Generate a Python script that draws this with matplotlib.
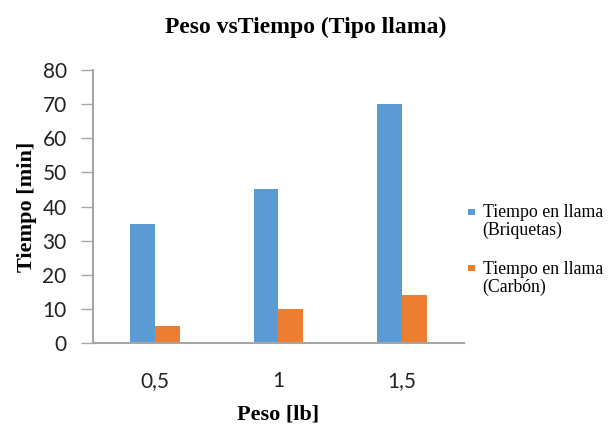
import numpy as np
import matplotlib
matplotlib.use("Agg")
import matplotlib.pyplot as plt
from matplotlib.patches import Rectangle
from matplotlib.container import BarContainer
from matplotlib.legend_handler import HandlerPatch, update_from_first_child

# datos
pesos = ["0,5", "1", "1,5"]
briquetas = [35, 45, 70]
carbon = [5, 10, 14]
series_names = ["Tiempo en llama\n(Briquetas)", "Tiempo en llama\n(Carbón)"]

AZUL = "#5b9bd5"
NARANJA = "#ed7d31"
GRIS = "#a6a6a6"
SERIF = "Liberation Serif"


def cuadrado_arriba(legend, orig_handle, xdescent, ydescent, width, height, fontsize):
    # cuadrito alineado con la primera linea del texto (como Excel)
    s = width
    return Rectangle((-xdescent, -ydescent + height - s * 1.2), s, s)


fig = plt.figure(figsize=(6.12, 4.28), dpi=100)
ax = fig.add_axes([0.152, 0.199, 0.606, 0.637])

x = np.arange(len(pesos))
w = 0.2
ax.bar(x - w / 2, briquetas, w, color=AZUL, label=series_names[0])
ax.bar(x + w / 2, carbon, w, color=NARANJA, label=series_names[1])

ax.set_xlim(-0.5, len(pesos) - 0.5)
ax.set_ylim(0, 80)
ax.set_yticks(range(0, 81, 10))
ax.set_xticks(x)
ax.set_xticklabels(pesos)

for s in ["top", "right"]:
    ax.spines[s].set_visible(False)
for s in ["left", "bottom"]:
    ax.spines[s].set_color(GRIS)
    ax.spines[s].set_linewidth(1.5)

ax.tick_params(axis="y", length=9, width=1, color=GRIS, pad=10, labelsize=15)
ax.tick_params(axis="x", length=0, pad=20, labelsize=15)
for lab in ax.get_xticklabels() + ax.get_yticklabels():
    lab.set_fontfamily("Lato")
    lab.set_color("#222222")

ax.set_xlabel("Peso [lb]", fontfamily=SERIF, fontweight="bold",
              fontsize=16, labelpad=10)
ax.set_ylabel("Tiempo [min]", fontfamily=SERIF, fontweight="bold",
              fontsize=16, labelpad=4)
fig.text(0.5, 0.937, "Peso vsTiempo (Tipo llama)", ha="center", va="center",
         fontfamily=SERIF, fontweight="bold", fontsize=17)

handler = HandlerPatch(patch_func=cuadrado_arriba, update_func=update_from_first_child)
leg = ax.legend(loc="center left", bbox_to_anchor=(1.0, 0.34), frameon=False,
                prop={"family": SERIF, "size": 12.8},
                handlelength=0.35, handleheight=2.3, handletextpad=0.45,
                labelspacing=1.2, borderaxespad=0.0, borderpad=0.25,
                handler_map={BarContainer: handler})
for t in leg.get_texts():
    t.set_linespacing(1.05)

fig.savefig("out.png", dpi=100)
